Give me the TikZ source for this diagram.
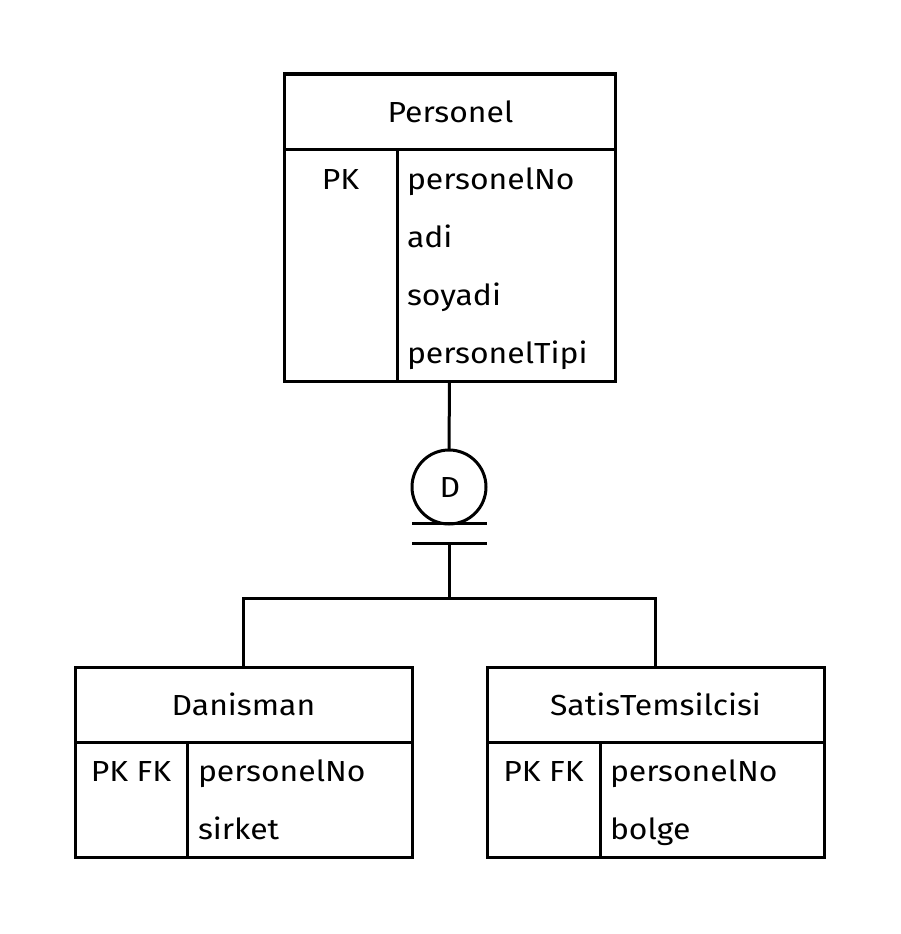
\documentclass[tikz,border=0pt]{standalone}
\usepackage{fontspec}
\setmainfont[FakeStretch=1.1]{Fira Sans}
\begin{document}
\begin{tikzpicture}[x=1pt,y=-1pt,line width=3pt,
  every node/.style={inner sep=0pt,outer sep=0pt,font=\fontsize{29}{34}\selectfont},
  ent/.style={draw,rectangle,line width=3pt},
  lbl/.style={anchor=base},
  fld/.style={anchor=base west}]
\useasboundingbox (0,0) rectangle (900,934);
% Personel
\node[ent,minimum width=331pt,minimum height=307pt] (per) at (449.5,227.5) {};
\node[ent,minimum width=331pt,minimum height=75pt,anchor=north] (perh) at (per.north) {};
\node[lbl] (pert) at (450.5,122) {Personel};
\draw (397,149) -- (397,381);
\node[lbl] (perpk) at (340.5,189) {PK};
\node[fld] (perf1) at (407,189) {personelNo};
\node[fld] (perf2) at (407,247) {adi};
\node[fld] (perf3) at (407,305) {soyadi};
\node[fld] (perf4) at (407,363) {personelTipi};
% D circle
\node[draw,circle,minimum size=74pt,line width=3pt] (d) at (449,487) {};
\node[lbl] (dt) at (450,497) {D};
\draw (per.south) -- (d.north);
\coordinate (b1l) at (412,523);
\coordinate (b1r) at (487,523);
\coordinate (b2l) at (412,543);
\coordinate (b2r) at (487,543);
\coordinate (b2) at (449,543);
\draw (b1l) -- (b1r);
\draw (b2l) -- (b2r);
% Danisman
\node[ent,minimum width=337pt,minimum height=190pt] (dan) at (243.5,762) {};
\node[ent,minimum width=337pt,minimum height=75pt,anchor=north] (danh) at (dan.north) {};
\node[lbl] (dant) at (243.5,715) {Danisman};
\draw (187,742) -- (187,857);
\node[lbl] (danpk) at (131,781) {PK FK};
\node[fld] (danf1) at (198,781) {personelNo};
\node[fld] (danf2) at (198,839) {sirket};
% SatisTemsilcisi
\node[ent,minimum width=337pt,minimum height=190pt] (sat) at (655.5,762) {};
\node[ent,minimum width=337pt,minimum height=75pt,anchor=north] (sath) at (sat.north) {};
\node[lbl] (satt) at (655.5,715) {SatisTemsilcisi};
\draw (600,742) -- (600,857);
\node[lbl] (satpk) at (543.5,781) {PK FK};
\node[fld] (satf1) at (610,781) {personelNo};
\node[fld] (satf2) at (610,839) {bolge};
% connectors
\draw (b2) -- ++(0,55) -| (dan.north);
\draw (b2) -- ++(0,55) -| (sat.north);
\end{tikzpicture}
\end{document}
